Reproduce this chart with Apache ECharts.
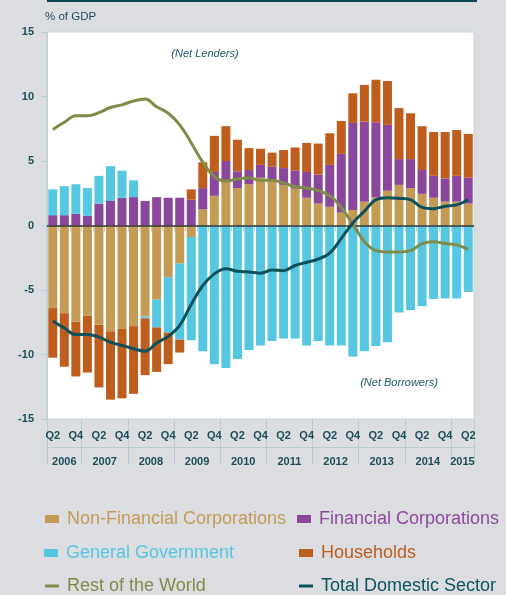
<!DOCTYPE html>
<html>
<head>
<meta charset="utf-8">
<script src="https://cdn.jsdelivr.net/npm/echarts@6/dist/echarts.min.js"></script>
<style>
  html, body { margin: 0; padding: 0; background: #dcdde0; }
  #chart { width: 506px; height: 595px; }
</style>
</head>
<body>
<div id="chart"></div>
<script>
  // 年份与季度
  var years = ['2006', '2007', '2008', '2009', '2010', '2011', '2012', '2013', '2014', '2015'];
  var quartersPerYear = [3, 4, 4, 4, 4, 4, 4, 4, 4, 2];
  var firstQuarter = 2;
  var shownQuarters = ['Q2', 'Q4'];

  // 各部门净借贷 (% of GDP)
  var nonFinancial = [-6.4, -6.8, -7.45, -7.0, -7.7, -8.2, -8.0, -7.8, -7.05, -5.75, -4.0, -2.95, -0.9, 1.25, 2.3, 3.5, 2.9, 3.2, 3.7, 3.6, 3.15, 2.85, 2.15, 1.7, 1.45, 1.0, 1.2, 1.85, 2.2, 2.7, 3.15, 2.9, 2.45, 2.15, 1.85, 1.85, 1.7];
  var financial = [0.8, 0.8, 0.9, 0.75, 1.7, 1.9, 2.15, 2.2, 1.9, 2.2, 2.15, 2.15, 2.0, 1.65, 1.85, 1.5, 1.3, 1.1, 1.0, 0.95, 1.3, 1.4, 2.0, 2.25, 3.25, 4.55, 6.75, 6.2, 5.8, 5.1, 2.0, 2.25, 1.85, 1.7, 1.8, 2.0, 2.0];
  var government = [2.0, 2.25, 2.3, 2.15, 2.15, 2.7, 2.1, 1.3, -0.15, -2.15, -4.3, -5.9, -8.0, -9.75, -10.75, -11.05, -10.35, -9.65, -9.3, -8.95, -8.75, -8.75, -9.3, -8.95, -9.3, -9.3, -10.15, -9.75, -9.35, -9.05, -6.75, -6.55, -6.25, -5.7, -5.65, -5.65, -5.15];
  var households = [-3.85, -4.15, -4.25, -4.4, -4.85, -5.3, -5.4, -5.25, -4.4, -3.45, -2.45, -1.0, 0.8, 2.0, 2.8, 2.7, 2.45, 1.7, 1.25, 1.1, 1.4, 1.8, 2.25, 2.4, 2.45, 2.55, 2.3, 2.85, 3.3, 3.4, 3.95, 3.55, 3.4, 3.4, 3.6, 3.55, 3.4];
  var restOfWorld = [7.45, 8.0, 8.5, 8.5, 8.75, 9.15, 9.35, 9.65, 9.8, 9.2, 8.7, 7.8, 6.4, 4.9, 3.8, 3.45, 3.6, 3.7, 3.5, 3.5, 3.3, 3.0, 2.9, 2.7, 2.3, 1.4, 0.1, -1.25, -1.95, -2.05, -2.05, -1.95, -1.4, -1.25, -1.4, -1.5, -1.85];
  var totalDomestic = [-7.4, -7.95, -8.45, -8.45, -8.65, -9.05, -9.3, -9.55, -9.75, -9.1, -8.6, -7.75, -6.1, -4.65, -3.75, -3.35, -3.55, -3.6, -3.7, -3.45, -3.5, -3.1, -2.85, -2.6, -2.15, -1.0, 0.2, 1.1, 2.0, 2.15, 2.1, 2.0, 1.4, 1.3, 1.5, 1.6, 2.0];

  // 季度类目
  var categories = [];
  years.forEach(function (y, i) {
    var start = i === 0 ? firstQuarter : 1;
    for (var q = start; q < start + quartersPerYear[i]; q++) {
      categories.push(y + ' Q' + q);
    }
  });

  // 年份轴: 半季度分辨率的点, 用于居中年份和分隔线
  var yearPoints = [];
  var yearBreaks = [0];
  var pos = 0;
  for (var k = 0; k <= categories.length * 2; k++) yearPoints.push('');
  years.forEach(function (y, i) {
    yearPoints[pos * 2 + quartersPerYear[i]] = y;
    pos += quartersPerYear[i];
    yearBreaks.push(pos * 2);
  });

  var axisColor = '#b7ccd4';
  var labelColor = '#1d4e5a';
  var font = 'Liberation Sans';
  var lineIcon = 'path://M0,0H14V3H0Z';

  // 图例, 每项单独定位 (两列三行)
  function legendItem(name, icon, color, left, top) {
    return {
      left: left, top: top, padding: 0, itemWidth: 14, itemHeight: 8,
      textStyle: { fontSize: 18, padding: [0, 0, 0, 3] },
      data: [{ name: name, icon: icon, textStyle: { color: color } }]
    };
  }

  var myChart = echarts.init(document.getElementById('chart'));
  var option = {
    animation: false,
    backgroundColor: '#dcdde0',
    textStyle: { fontFamily: font },
    grid: {
      left: 47, right: 32, top: 32, bottom: 176,
      show: true, backgroundColor: '#ffffff', borderColor: '#c9d7de', borderWidth: 1
    },
    graphic: [
      { type: 'rect', left: 47, top: 0, shape: { width: 430, height: 2 }, style: { fill: '#0b4a55' } },
      { type: 'text', x: 205, y: 54, style: { text: '(Net Lenders)', font: 'italic 11px "Liberation Sans"', fill: '#245a66', align: 'center', verticalAlign: 'middle' } },
      { type: 'text', x: 399, y: 383, style: { text: '(Net Borrowers)', font: 'italic 11px "Liberation Sans"', fill: '#245a66', align: 'center', verticalAlign: 'middle' } }
    ],
    legend: [
      legendItem('Non-Financial Corporations', 'rect', '#c49c58', 45, 510),
      legendItem('Financial Corporations', 'rect', '#8d4b9d', 297, 510),
      legendItem('General Government', 'rect', '#56c7e1', 44, 544),
      legendItem('Households', 'rect', '#bf5d1f', 299, 544),
      legendItem('Rest of the World', lineIcon, '#808c4a', 45, 577),
      legendItem('Total Domestic Sector', lineIcon, '#0e5360', 299, 577)
    ],
    xAxis: [
      {
        type: 'category',
        data: categories,
        position: 'bottom',
        axisLine: { show: false },
        axisTick: { show: true, interval: 0, length: 6, lineStyle: { color: axisColor } },
        axisLabel: {
          interval: 0, margin: 11, color: labelColor, fontWeight: 'bold', fontSize: 11,
          formatter: function (v) {
            var q = v.split(' ')[1];
            return shownQuarters.indexOf(q) >= 0 ? q : '';
          }
        }
      },
      {
        type: 'category',
        data: yearPoints,
        boundaryGap: false,
        position: 'bottom',
        offset: 28,
        axisLine: { show: true, lineStyle: { color: axisColor, width: 1 } },
        axisTick: {
          show: true, length: 18, lineStyle: { color: axisColor },
          interval: function (i) { return yearBreaks.indexOf(i) >= 0; }
        },
        axisLabel: { interval: 0, margin: 9, color: labelColor, fontWeight: 'bold', fontSize: 11 }
      },
      {
        type: 'category',
        data: yearPoints,
        boundaryGap: false,
        position: 'bottom',
        offset: 28,
        axisLine: { show: false },
        axisTick: {
          show: true, inside: true, length: 28, lineStyle: { color: axisColor },
          interval: function (i) { return yearBreaks.indexOf(i) >= 0; }
        },
        axisLabel: { show: false }
      }
    ],
    yAxis: {
      type: 'value',
      min: -15, max: 15, interval: 5,
      name: '% of GDP',
      nameLocation: 'end',
      nameGap: 15,
      nameTextStyle: { align: 'left', verticalAlign: 'middle', color: labelColor, fontSize: 11.5, padding: [0, 0, 0, -2] },
      axisLine: { show: true, lineStyle: { color: axisColor, width: 1.5 } },
      axisTick: { show: true, length: 6, lineStyle: { color: axisColor } },
      axisLabel: { margin: 13, color: labelColor, fontWeight: 'bold', fontSize: 11 },
      splitLine: { show: false }
    },
    series: [
      { name: 'Non-Financial Corporations', type: 'bar', stack: 'total', barWidth: 9, data: nonFinancial, itemStyle: { color: '#c49b55' } },
      { name: 'Financial Corporations', type: 'bar', stack: 'total', barWidth: 9, data: financial, itemStyle: { color: '#8b479b' } },
      { name: 'General Government', type: 'bar', stack: 'total', barWidth: 9, data: government, itemStyle: { color: '#56c7e1' } },
      {
        name: 'Households', type: 'bar', stack: 'total', barWidth: 9, data: households, itemStyle: { color: '#bf5d1d' },
        markLine: {
          silent: true, symbol: 'none', label: { show: false },
          lineStyle: { color: '#333333', width: 1.5, type: 'solid' },
          data: [{ yAxis: 0 }]
        }
      },
      { name: 'Rest of the World', type: 'line', smooth: 0.4, showSymbol: false, data: restOfWorld, lineStyle: { color: '#7f8b47', width: 3 }, itemStyle: { color: '#7f8b47' }, z: 5 },
      { name: 'Total Domestic Sector', type: 'line', smooth: 0.4, showSymbol: false, data: totalDomestic, lineStyle: { color: '#0c505b', width: 3 }, itemStyle: { color: '#0c505b' }, z: 6 }
    ]
  };
  myChart.setOption(option);
</script>
</body>
</html>
